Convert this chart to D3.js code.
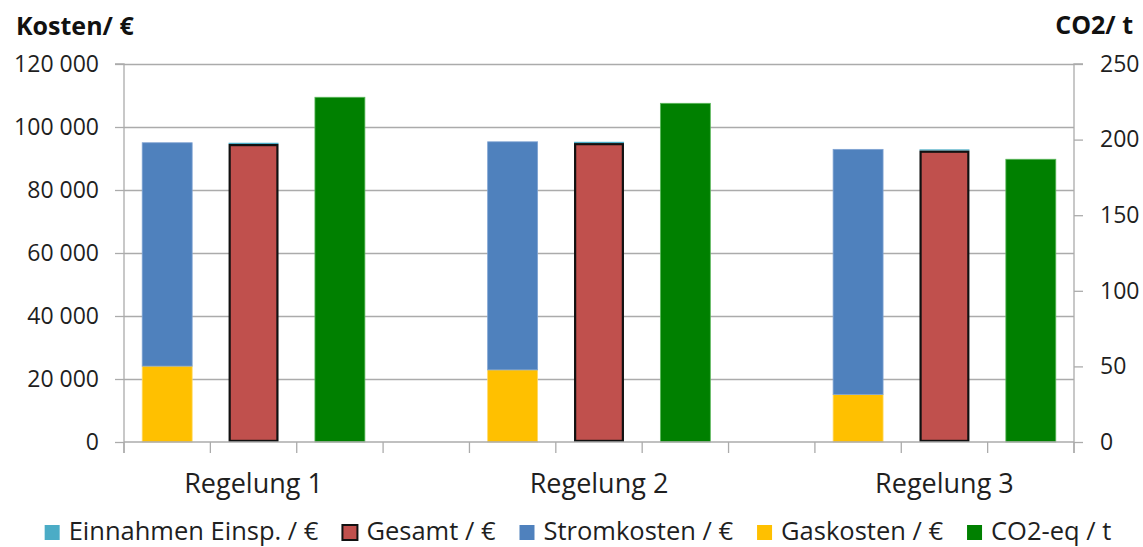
<!DOCTYPE html>
<html>
<head>
<meta charset="utf-8">
<script src="https://cdn.jsdelivr.net/npm/d3@7"></script>
<style>
  html, body { margin: 0; padding: 0; background: #fff; }
  svg { display: block; font-family: "Open Sans", "Liberation Sans", sans-serif; }
</style>
</head>
<body>
<svg id="chart" width="1143" height="547"></svg>
<script>
// Scenario names (one group of three columns each)
const categories = ["Regelung 1", "Regelung 2", "Regelung 3"];

// Cost components per scenario, in €
const gaskosten   = [24100, 22900, 15100];
const stromkosten = [70900, 72400, 77800];
const gesamt      = [94600, 94900, 92500];
const einnahmen   = [400, 400, 400];

// CO2 equivalent per scenario, in t (secondary axis)
const co2eq = [228, 224, 187];

// Axis ticks
const costTicks = [0, 20000, 40000, 60000, 80000, 100000, 120000];
const co2Ticks  = [0, 50, 100, 150, 200, 250];

// Legend entries
const legendLabels = ["Einnahmen Einsp. / €", "Gesamt / €", "Stromkosten / €", "Gaskosten / €", "CO2-eq / t"];

const colors = {
  einnahmen: "#4BACC6",
  gesamt: "#C0504D",
  strom: "#4F81BD",
  gas: "#FFC000",
  co2: "#008000"
};

const W = 1143, H = 547;
const plot = { left: 124, right: 1074, top: 64, bottom: 442 };
const svg = d3.select("#chart");

// Eleven column slots: three per scenario plus an empty slot between scenarios
const slotsPerGroup = 4;
const nSlots = categories.length * slotsPerGroup - 1;
const x = d3.scaleBand()
  .domain(d3.range(nSlots))
  .range([plot.left, plot.right])
  .paddingInner(0.41)
  .paddingOuter(0.205);
const step = x.step();

const yL = d3.scaleLinear().domain([0, 120000]).range([plot.bottom, plot.top]);
const yR = d3.scaleLinear().domain([0, 250]).range([plot.bottom, plot.top]);

const gridColor = "#ABABAB";
const textColor = "#1f1f1f";

// Horizontal gridlines on the cost axis
svg.append("g")
  .selectAll("line")
  .data(costTicks.filter(d => d > 0))
  .join("line")
  .attr("x1", plot.left).attr("x2", plot.right)
  .attr("y1", d => Math.round(yL(d)) + 0.5).attr("y2", d => Math.round(yL(d)) + 0.5)
  .attr("stroke", gridColor).attr("stroke-width", 1.3);

// Build column segments; `inset` keeps a thick outline inside the column
const segments = [];
categories.forEach((c, i) => {
  const s0 = i * slotsPerGroup;
  segments.push({ slot: s0, y0: 0, y1: gaskosten[i], scale: yL, fill: colors.gas, stroke: "#FFD966" });
  segments.push({ slot: s0, y0: gaskosten[i], y1: gaskosten[i] + stromkosten[i], scale: yL, fill: colors.strom, stroke: "#7FA3D3" });
  segments.push({ slot: s0 + 1, y0: gesamt[i], y1: gesamt[i] + einnahmen[i], scale: yL, fill: colors.einnahmen, stroke: "none" });
  segments.push({ slot: s0 + 1, y0: 0, y1: gesamt[i], scale: yL, fill: colors.gesamt, stroke: "#111", sw: 2.2, inset: 1.1 });
  segments.push({ slot: s0 + 2, y0: 0, y1: co2eq[i], scale: yR, fill: colors.co2, stroke: "#5CB85C" });
});

svg.append("g")
  .selectAll("rect")
  .data(segments)
  .join("rect")
  .attr("x", d => x(d.slot) + 0.5 + (d.inset || 0))
  .attr("width", d => x.bandwidth() - 1 - 2 * (d.inset || 0))
  .attr("y", d => d.scale(d.y1) + (d.inset || 0))
  .attr("height", d => d.scale(d.y0) - d.scale(d.y1) - 2 * (d.inset || 0))
  .attr("fill", d => d.fill)
  .attr("stroke", d => d.stroke)
  .attr("stroke-width", d => d.sw || 0.8);

// Left axis (costs)
const fmt = d => d3.format(",")(d).replace(/,/g, " ");
const axL = svg.append("g")
  .attr("transform", `translate(${plot.left},0)`)
  .call(d3.axisLeft(yL).tickValues(costTicks).tickFormat(fmt).tickSize(9).tickPadding(16));
axL.selectAll("text").attr("font-size", 23).attr("fill", textColor).attr("font-family", "Open Sans");

// Right axis (CO2)
const axR = svg.append("g")
  .attr("transform", `translate(${plot.right},0)`)
  .call(d3.axisRight(yR).tickValues(co2Ticks).tickSize(9).tickPadding(17));
axR.selectAll("text").attr("font-size", 23).attr("fill", textColor).attr("font-family", "Open Sans");

[axL, axR].forEach(a => {
  a.select(".domain").attr("stroke", gridColor).attr("stroke-width", 1.3).attr("d", `M${a === axL ? -9 : 9},${plot.top}H0V${plot.bottom + 11}`);
  a.selectAll(".tick line").attr("stroke", gridColor).attr("stroke-width", 1.3);
});

// Category axis: baseline, slot separators and scenario labels
const xAxis = svg.append("g");
xAxis.append("line")
  .attr("x1", plot.left).attr("x2", plot.right)
  .attr("y1", plot.bottom).attr("y2", plot.bottom)
  .attr("stroke", gridColor).attr("stroke-width", 1.3);
xAxis.selectAll("line.sep")
  .data(d3.range(nSlots + 1))
  .join("line")
  .attr("class", "sep")
  .attr("x1", i => plot.left + i * step).attr("x2", i => plot.left + i * step)
  .attr("y1", plot.bottom).attr("y2", plot.bottom + 11)
  .attr("stroke", gridColor).attr("stroke-width", 1.3);
xAxis.selectAll("text")
  .data(categories)
  .join("text")
  .attr("x", (c, i) => x(i * slotsPerGroup + 1) + x.bandwidth() / 2)
  .attr("y", 493)
  .attr("text-anchor", "middle")
  .attr("font-size", 27)
  .attr("fill", textColor)
  .text(c => c);

// Axis titles
svg.append("text")
  .attr("x", 16).attr("y", 35)
  .attr("font-size", 25).attr("font-weight", "bold").attr("fill", "#111")
  .text("Kosten/ €");
svg.append("text")
  .attr("x", 1133).attr("y", 34)
  .attr("text-anchor", "end")
  .attr("font-size", 25).attr("font-weight", "bold").attr("fill", "#111")
  .text("CO2/ t");

// Legend along the bottom
const legendColors = [colors.einnahmen, colors.gesamt, colors.strom, colors.gas, colors.co2];
const legend = svg.append("g");
const items = legend.selectAll("g")
  .data(legendLabels)
  .join("g");
items.append("rect")
  .attr("width", 15).attr("height", 15)
  .attr("y", 525)
  .attr("fill", (d, i) => legendColors[i])
  .attr("stroke", (d, i) => i === 1 ? "#111" : "none")
  .attr("stroke-width", 2);
items.append("text")
  .attr("x", 24).attr("y", 540)
  .attr("font-size", 25.5)
  .attr("fill", textColor)
  .text(d => d);

const gap = 24;
const widths = [];
items.each(function () {
  widths.push(d3.select(this).select("text").node().getComputedTextLength() + 24);
});
const total = d3.sum(widths) + gap * (widths.length - 1);
let cursor = 578 - total / 2;
items.each(function (d, i) {
  d3.select(this).attr("transform", `translate(${cursor},0)`);
  cursor += widths[i] + gap;
});
</script>
</body>
</html>
